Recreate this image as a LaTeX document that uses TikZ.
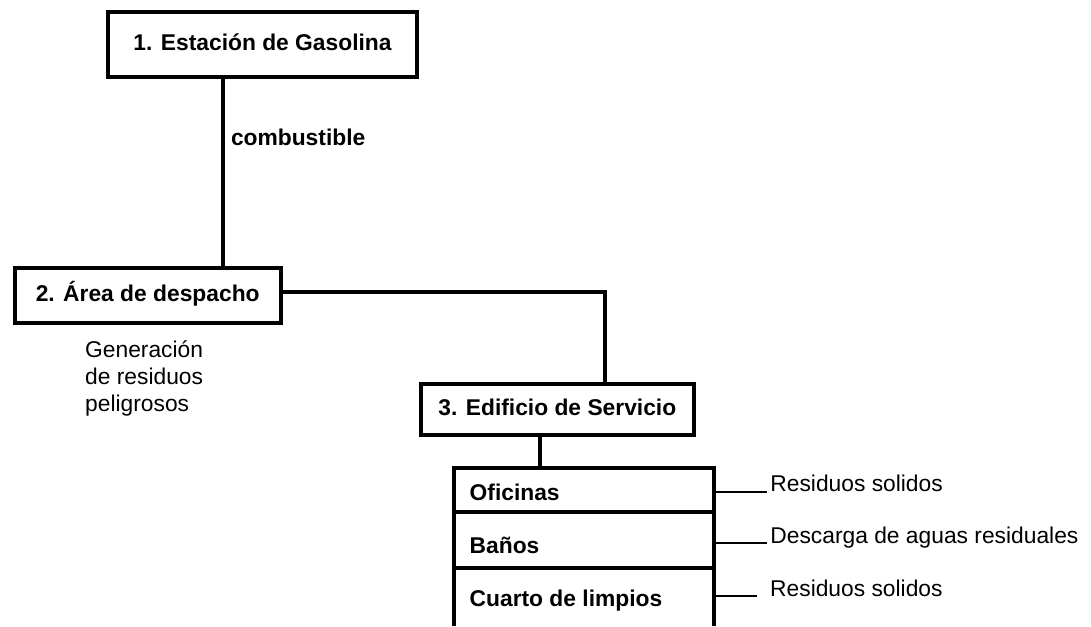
\documentclass[tikz,border=0pt]{standalone}
\usepackage{fontspec}
\setmainfont{Liberation Sans}
\usetikzlibrary{positioning}

\begin{document}
\begin{tikzpicture}[x=1pt,y=-1pt]
      \tikzstyle{every node}=[font=\fontsize{22.8}{26.8}\selectfont]
      \tikzstyle{box}=[draw,line width=4pt,inner sep=0pt,text height=16.3pt,text depth=3.5pt,font=\fontsize{22.8}{26.8}\selectfont\bfseries]
      \tikzstyle{row}=[draw,line width=4pt,minimum width=260pt,inner sep=0pt,outer sep=0pt]
      \tikzstyle{lab}=[inner sep=0pt,anchor=base west]
      \tikzstyle{wire}=[line width=4pt]
      \useasboundingbox (0,0) rectangle (1091,626);

      \node[box,minimum width=309pt,minimum height=64.7pt]   (n1) at (262.5,44.3) {1. Estación de Gasolina};
      \node[box,minimum width=266pt,minimum height=55pt]     (n2) at (147.7,295.5) {2. Área de despacho};
      \node[box,minimum width=272.7pt,minimum height=50.7pt] (n3) at (557.3,409.3) {3. Edificio de Servicio};

      \node[row,minimum height=43.7pt]                    (r1) at (583.7,489.85) {};
      \node[row,minimum height=56.6pt,below=0pt of r1]    (r2) {};
      \node[row,draw=none,minimum height=57.7pt,below=0pt of r2] (r3) {};
      \draw[wire] (r3.north west) -- (r3.south west) (r3.north east) -- (r3.south east);

      \node[lab,font=\fontsize{22.8}{26.8}\selectfont\bfseries] (t1) at (469.5,500)   {Oficinas};
      \node[lab,font=\fontsize{22.8}{26.8}\selectfont\bfseries] (t2) at (469.5,553)   {Baños};
      \node[lab,font=\fontsize{22.8}{26.8}\selectfont\bfseries] (t3) at (469.5,606.7) {Cuarto de limpios};

      \node[lab] (l1) at (770.2,491.7) {Residuos solidos};
      \node[lab] (l2) at (770.2,543.3) {Descarga de aguas residuales};
      \node[lab] (l3) at (770,596)     {Residuos solidos};

      \node[lab,font=\fontsize{22.8}{26.8}\selectfont\bfseries] (fuel) at (230.8,145.7) {combustible};
      \node[lab,align=left] (gen) at (85,411) {Generación\\de residuos\\peligrosos};

      \coordinate (a) at (222.7,0);
      \coordinate (b) at (605,291.7);
      \coordinate (c) at (540,0);

    	\draw[wire] (n1.south -| a) -- (n2.north -| a);
    	\draw[wire] (n2.east |- b) -- (b) -- (b |- n3.north);
    	\draw[wire] (n3.south -| c) -- (r1.north -| c);

    	\draw[line width=2pt] (r1.east |- l1.base) -- ([xshift=-3.5pt]l1.base west);
    	\draw[line width=2pt] (r2.east |- l2.base) -- ([xshift=-3.5pt]l2.base west);
    	\draw[line width=2pt] (r3.east |- l3.base) -- ([xshift=-13.3pt]l3.base west);
    \end{tikzpicture}
\end{document}
